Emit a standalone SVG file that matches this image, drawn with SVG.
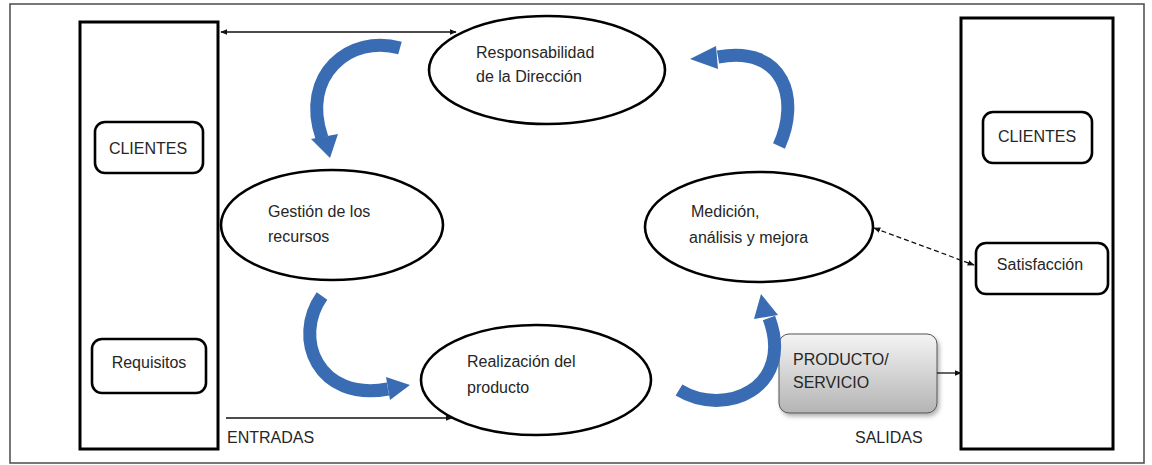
<svg xmlns="http://www.w3.org/2000/svg" width="1152" height="465" viewBox="0 0 1152 465">
  <style>
    .frame { fill: none; stroke: #555; stroke-width: 1.6; }
    .column { fill: #fff; stroke: #000; stroke-width: 3; }
    .tag { fill: #fff; stroke: #000; stroke-width: 2.6; }
    .process { fill: #fff; stroke: #000; stroke-width: 2.6; }
    .label { font-family: "Liberation Sans", Arial, sans-serif; font-size: 16px; fill: #262626; }
    .mid { text-anchor: middle; }
    .link { fill: none; stroke: #111; stroke-width: 1.3; }
    .dashed { stroke-dasharray: 5 3; }
    .cycle { fill: none; stroke: #3a6cb3; stroke-width: 13; stroke-linecap: butt; }
    .cycle-head { fill: #3a6cb3; }
  </style>
  <defs>
    <marker id="tip" viewBox="0 0 10 10" refX="9" refY="5" markerWidth="7" markerHeight="7" orient="auto-start-reverse" markerUnits="userSpaceOnUse">
      <path d="M0 1 L10 5 L0 9 Z" fill="#111"/>
    </marker>
    <linearGradient id="gray" x1="0" y1="0" x2="0" y2="1">
      <stop offset="0" stop-color="#f4f4f4"/>
      <stop offset="1" stop-color="#b4b4b4"/>
    </linearGradient>
    <filter id="shadow" x="-10%" y="-10%" width="125%" height="130%">
      <feDropShadow dx="2" dy="3" stdDeviation="2" flood-color="#000" flood-opacity="0.3"/>
    </filter>
  </defs>

  <rect width="1152" height="465" fill="#fff"/>
  <rect class="frame" x="10" y="4" width="1134" height="459"/>

  <!-- input side -->
  <g id="inputs">
    <rect class="column" x="80" y="22" width="138" height="427"/>
  </g>
  <g id="clientes-in">
    <rect class="tag" x="95" y="122" width="108" height="51" rx="10"/>
    <text class="label mid" x="148" y="154">CLIENTES</text>
  </g>
  <g id="requisitos">
    <rect class="tag" x="92" y="339" width="114" height="54" rx="10"/>
    <text class="label mid" x="149" y="368">Requisitos</text>
  </g>

  <!-- output side -->
  <g id="outputs">
    <rect class="column" x="961" y="18" width="152" height="431"/>
  </g>
  <g id="clientes-out">
    <rect class="tag" x="983" y="112" width="109" height="51" rx="10"/>
    <text class="label mid" x="1037" y="142">CLIENTES</text>
  </g>
  <g id="satisfaccion">
    <rect class="tag" x="976" y="243" width="132" height="51" rx="10"/>
    <text class="label mid" x="1040" y="270">Satisfacción</text>
  </g>

  <!-- management processes -->
  <g id="direccion">
    <ellipse class="process" cx="547" cy="70" rx="118" ry="54"/>
    <text class="label" x="476" y="58">Responsabilidad</text>
    <text class="label" x="476" y="82">de la Dirección</text>
  </g>
  <g id="recursos">
    <ellipse class="process" cx="332" cy="225" rx="111" ry="55"/>
    <text class="label" x="268" y="217">Gestión de los</text>
    <text class="label" x="268" y="242">recursos</text>
  </g>
  <g id="medicion">
    <ellipse class="process" cx="759" cy="227" rx="114" ry="55"/>
    <text class="label" x="691" y="217">Medición,</text>
    <text class="label" x="689" y="243">análisis y mejora</text>
  </g>
  <g id="realizacion">
    <ellipse class="process" cx="536" cy="380" rx="115" ry="55"/>
    <text class="label" x="467" y="367">Realización del</text>
    <text class="label" x="467" y="393">producto</text>
  </g>

  <g id="producto">
    <rect x="779" y="334" width="158" height="79" rx="10" fill="url(#gray)" stroke="#555" stroke-width="1" filter="url(#shadow)"/>
    <text class="label" x="793" y="365">PRODUCTO/</text>
    <text class="label" x="793" y="388">SERVICIO</text>
  </g>

  <text class="label" x="227" y="443">ENTRADAS</text>
  <text class="label" x="855" y="443">SALIDAS</text>

  <!-- connectors -->
  <g id="connectors">
    <line class="link" x1="221" y1="32" x2="456" y2="32" marker-start="url(#tip)" marker-end="url(#tip)"/>
    <line class="link" x1="226" y1="418" x2="452" y2="418" marker-end="url(#tip)"/>
    <line class="link" x1="937" y1="373" x2="961" y2="373" marker-end="url(#tip)"/>
    <line class="link dashed" x1="874" y1="228" x2="974" y2="265" marker-start="url(#tip)" marker-end="url(#tip)"/>

    <!-- improvement cycle arrows -->
    <path class="cycle" d="M400 48 C350 34 300 75 322 138"/>
    <polygon class="cycle-head" points="311,139 338,134 330,158"/>

    <path class="cycle" d="M779 146 C800 100 785 45 718 57"/>
    <polygon class="cycle-head" points="716,46 718,69 690,59"/>

    <path class="cycle" d="M322 296 C292 338 318 402 388 389"/>
    <polygon class="cycle-head" points="386,377 390,400 410,385"/>

    <path class="cycle" d="M679 390 C725 418 795 388 769 318"/>
    <polygon class="cycle-head" points="754,319 778,315 761,294"/>
  </g>
</svg>
